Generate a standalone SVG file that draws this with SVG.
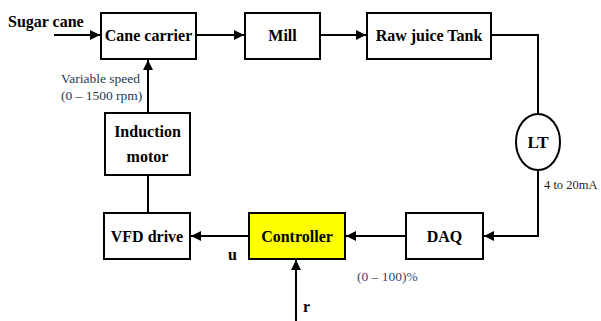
<svg xmlns="http://www.w3.org/2000/svg" width="601" height="321" viewBox="0 0 601 321">
<defs>
<marker id="arr" viewBox="0 0 10 10" refX="10" refY="5" markerWidth="10" markerHeight="10" markerUnits="userSpaceOnUse" orient="auto">
<path d="M0,0 L10,5 L0,10 Z" fill="#000"/>
</marker>
<style>
.box{fill:#fff;stroke:#000;stroke-width:2}
.lbl{font-family:"Liberation Serif",serif;font-weight:bold;font-size:16px;fill:#000;text-anchor:middle}
.ln{fill:none;stroke:#000;stroke-width:2}
.sm{font-family:"Liberation Serif",serif;font-size:13.5px}
</style>
</defs>
<rect width="601" height="321" fill="#fff"/>
<g id="connectors">
<path class="ln" d="M54,35 H100" marker-end="url(#arr)"/>
<path class="ln" d="M196,35 H244" marker-end="url(#arr)"/>
<path class="ln" d="M320,35 H366" marker-end="url(#arr)"/>
<path class="ln" d="M491,35 H538 V114"/>
<path class="ln" d="M538,170 V236 H484" marker-end="url(#arr)"/>
<path class="ln" d="M406,236 H346" marker-end="url(#arr)"/>
<path class="ln" d="M249,236 H191" marker-end="url(#arr)"/>
<path class="ln" d="M148,213 V175"/>
<path class="ln" d="M148,113 V60" marker-end="url(#arr)"/>
<path class="ln" d="M296,321 V260" marker-end="url(#arr)"/>
</g>
<g id="cane-carrier"><rect class="box" x="101" y="13" width="95" height="46"/><text class="lbl" x="148.5" y="41">Cane carrier</text></g>
<g id="mill"><rect class="box" x="245" y="13" width="75" height="46"/><text class="lbl" x="282.5" y="41">Mill</text></g>
<g id="raw-juice-tank"><rect class="box" x="367" y="13" width="124" height="46"/><text class="lbl" x="429" y="41">Raw juice Tank</text></g>
<g id="lt"><ellipse cx="538" cy="142" rx="22" ry="28" fill="#fff" stroke="#000" stroke-width="2"/><text class="lbl" x="538" y="148" style="font-size:17px">LT</text></g>
<g id="daq"><rect class="box" x="406" y="213" width="77" height="46"/><text class="lbl" x="444.5" y="242">DAQ</text></g>
<g id="controller"><rect class="box" x="249" y="213" width="96" height="46" style="fill:#ffff00"/><text class="lbl" x="297" y="242">Controller</text></g>
<g id="vfd-drive"><rect class="box" x="104" y="213" width="86" height="46"/><text class="lbl" x="147" y="242">VFD drive</text></g>
<g id="induction-motor"><rect class="box" x="105" y="113" width="85" height="62"/><text class="lbl" x="147.5" y="137">Induction</text><text class="lbl" x="147.5" y="162">motor</text></g>
<g id="labels">
<text class="lbl" x="8" y="27" style="text-anchor:start">Sugar cane</text>
<text class="sm" x="61" y="83" fill="#1f3a4f">Variable speed</text>
<text class="sm" x="61" y="100" fill="#1f3a4f">(0 – 1500 rpm)</text>
<text class="sm" x="544" y="189" fill="#2a1f10" style="font-size:12.5px">4 to 20mA</text>
<text class="sm" x="357" y="281" fill="#2b4a78">(0 – 100)%</text>
<text class="lbl" x="228" y="260" style="text-anchor:start">u</text>
<text class="lbl" x="303" y="312" style="text-anchor:start">r</text>
</g>
</svg>
